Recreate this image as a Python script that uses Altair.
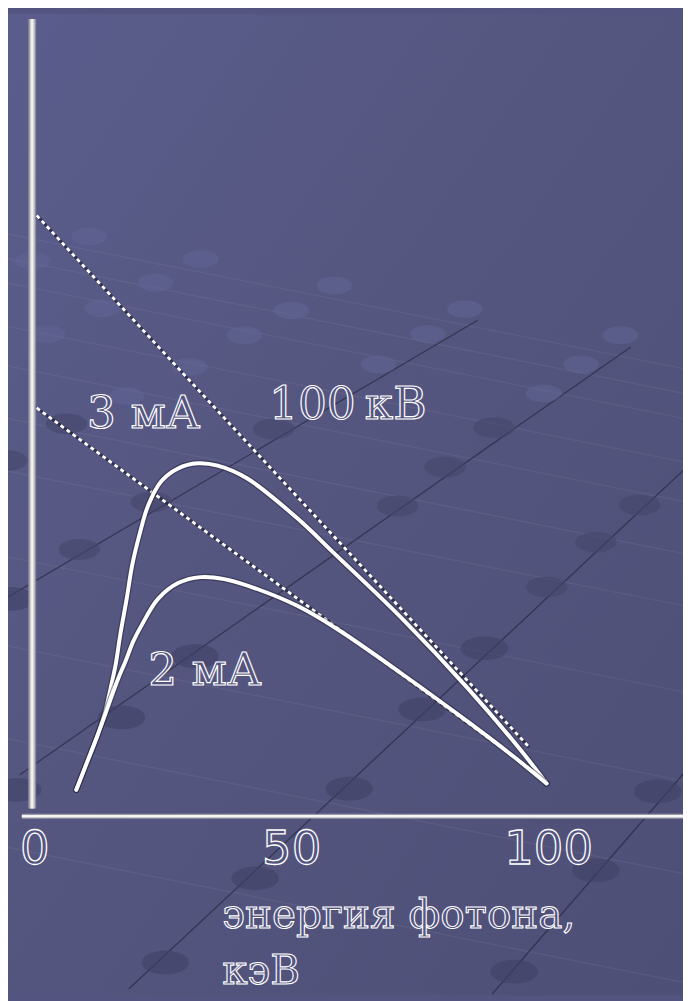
import altair as alt
import pandas as pd

# ---- spectrum curves (photon energy, keV -> relative intensity) ----
energy_3mA = [8.1, 10.2, 12.1, 13.7, 14.8, 15.8, 16.7, 17.9, 19.0, 20.4, 22.1, 24.6, 27.9,
              31.7, 35.6, 41.3, 51.0, 58.7, 71.5, 84.2, 94.6, 99.6]
intensity_3mA = [3.1, 6.6, 9.75, 12.9, 16.0, 19.1, 22.9, 27.25, 31.6, 35.4, 39.1, 42.1, 43.75,
                 44.4, 44.1, 42.5, 37.5, 32.75, 24.75, 16.0, 8.1, 3.9]
energy_2mA = [8.1, 10.2, 12.1, 13.7, 15.0, 16.3, 17.7, 19.2, 20.8, 24.0, 27.9, 32.3, 36.9,
              43.3, 51.0, 58.7, 71.5, 84.2, 93.3, 99.6]
intensity_2mA = [3.1, 6.6, 9.75, 12.6, 15.0, 17.25, 19.4, 21.9, 23.9, 27.25, 29.25, 30.0, 29.75,
                 28.5, 26.4, 23.5, 17.75, 11.75, 7.25, 3.9]

# ---- dotted Kramers lines ----
kramers_energy_3mA = [0.4, 96.2]
kramers_3mA = [75.75, 8.5]
kramers_energy_2mA = [0.4, 99.6]
kramers_2mA = [51.4, 4.25]

# ---- axis ----
tick_values = [0, 50, 100]
tick_labels = ["0", "50", "100"]
axis_title_lines = ["энергия фотона,", "кэВ"]

# ---- annotations ----
label_texts = ["3 мА", "100\u2009кВ", "2 мА"]
label_x = [10.2, 45.6, 22.1]
label_y = [48.9, 50.0, 16.4]

# ---- decorative background (slide template grid) ----
deco_x = [10.6, -0.4, 32.3, 23.5, 58.3, 13.1, 50.0, 2.5, 40.8, 76.5, 83.7, 30.2, 66.9, 114.0,
          106.3, 99.0, 17.9, 89.4, 6.2, 46.5, -5.4, 79.8, 70.6, 22.7, 117.7, 109.2, 99.6, 87.5,
          75.4, 8.7, 16.9, 31.2, 61.2, 121.2, -3.3, 42.9, 109.2, 25.4, 93.3, -4.8]
deco_y = [73.1, 70.0, 70.25, 67.25, 66.9, 64.0, 63.75, 60.75, 60.6, 60.75, 63.9, 56.6, 56.9, 60.6,
          56.9, 53.25, 52.9, 48.9, 49.4, 48.75, 44.75, 43.9, 39.0, 39.5, 39.1, 34.4, 28.75, 21.0,
          13.25, 33.5, 12.25, 20.0, 3.25, 2.9, 3.1, -8.1, -7.1, -18.75, -19.9, 27.25]
dark_x1 = [86.2, 116.0, 126.2, 126.2]
dark_y1 = [62.5, 59.1, 43.5, 5.1]
dark_x2 = [-6.7, -2.9, 18.3, 89.0]
dark_y2 = [26.9, 5.0, -22.1, -22.75]
light_y_left = [73.6, 70.5, 67.4, 61.9, 56.9, 50.25, 43.6, 32.75, 21.5, 9.75, -4.0]
light_y_right = [56.4, 53.25, 50.1, 44.6, 39.6, 33.0, 26.4, 15.5, 4.25, -7.5, -21.25]

BG = "#53547f"
XMIN, XMAX = -5.19, 126.15
YMIN, YMAX = -22.875, 101.25
xs = alt.Scale(domain=[XMIN, XMAX], nice=False, zero=False)
ys = alt.Scale(domain=[YMIN, YMAX], nice=False, zero=False)

def X(f="x"):
    return alt.X(f"{f}:Q", scale=xs, axis=None)

def Y(f="y"):
    return alt.Y(f"{f}:Q", scale=ys, axis=None)

# background gradient
bg = alt.Chart(pd.DataFrame({"a": [0]})).mark_rect(
    color=alt.Gradient(
        gradient="linear",
        stops=[alt.GradientStop(color="#5a5d8c", offset=0),
               alt.GradientStop(color="#55567f", offset=0.45),
               alt.GradientStop(color="#4e4f77", offset=1)],
        x1=0, y1=0, x2=1, y2=1)
).encode(x=alt.value(0), x2=alt.value(683), y=alt.value(0), y2=alt.value(993))

light_df = pd.DataFrame({"x": [XMIN - 1.5] * len(light_y_left), "y": light_y_left,
                         "x2": [XMAX] * len(light_y_left), "y2": light_y_right})
light = alt.Chart(light_df).mark_rule(color="#ffffff", opacity=0.05, strokeWidth=1.5).encode(
    x=X(), y=Y(), x2="x2:Q", y2="y2:Q")

dark_df = pd.DataFrame({"x": dark_x1, "y": dark_y1, "x2": dark_x2, "y2": dark_y2})
dark = alt.Chart(dark_df).mark_rule(color="#15152a", opacity=0.5, strokeWidth=1.3).encode(
    x=X(), y=Y(), x2="x2:Q", y2="y2:Q")

deco_df = pd.DataFrame({"x": deco_x, "y": deco_y})
deco_df["w"] = [36 if y > 52 else (42 if y > 28 else 48) for y in deco_y]
deco_df["s"] = deco_df["w"] ** 2
deco_df["c"] = ["#62659580" if y > 52 else ("#45466b99" if y > 28 else "#40416599") for y in deco_y]
ell_path = "M-1,0A1,0.5,0,1,1,1,0A1,0.5,0,1,1,-1,0Z"
deco = alt.Chart(deco_df).mark_point(shape=ell_path, filled=True, opacity=1, strokeWidth=0).encode(
    x=X(), y=Y(), size=alt.Size("s:Q", scale=None, legend=None),
    color=alt.Color("c:N", scale=None, legend=None))

# axes drawn as rules
yaxis_df = pd.DataFrame({"x": [-0.48], "y": [0.75], "y2": [100.6]})
yaxis = alt.layer(*[
    alt.Chart(yaxis_df).mark_rule(color=c, strokeWidth=w).encode(x=X(), y=Y(), y2="y2:Q")
    for c, w in [("#8c8c98", 8), ("#cfcfd4", 5), ("#f2f2f2", 2)]
])
xaxis_df = pd.DataFrame({"x": [-2.5], "x2": [XMAX], "y": [-0.25]})
xaxis = alt.layer(
    alt.Chart(xaxis_df).mark_rule(color="#9a9aa6", strokeWidth=5).encode(x=X(), x2="x2:Q", y=Y()),
    alt.Chart(xaxis_df).mark_rule(color="#f6f6f6", strokeWidth=2.5).encode(x=X(), x2="x2:Q", y=Y()),
)

# dotted lines
def dotted(ex, vals):
    d = pd.DataFrame({"x": ex, "y": vals})
    return alt.layer(
        alt.Chart(d).mark_line(color="#1a1a30", opacity=0.6, strokeWidth=3.2).encode(x=X(), y=Y()),
        alt.Chart(d).mark_line(color="#ffffff", strokeWidth=2.8, strokeDash=[4, 3.5]).encode(x=X(), y=Y()),
    )

def curve(ex, iy):
    d = pd.DataFrame({"x": ex, "y": iy})
    return alt.layer(
        alt.Chart(d).mark_line(color="#202036", opacity=0.45, strokeWidth=6.5,
                               interpolate="catmull-rom", strokeCap="round").encode(x=X(), y=Y()),
        alt.Chart(d).mark_line(color="#ffffff", strokeWidth=4,
                               interpolate="catmull-rom", strokeCap="round").encode(x=X(), y=Y()),
    )

# texts (outlined white lettering)
lab_df = pd.DataFrame({"x": label_x, "y": label_y, "t": label_texts})
labels = alt.Chart(lab_df).mark_text(
    font="DejaVu Serif", fontSize=46, fill=BG, stroke="#ffffff", strokeWidth=1.2,
    align="left", baseline="alphabetic").encode(x=X(), y=Y(), text="t:N")

tick_df = pd.DataFrame({"x": tick_values, "y": [-6.25] * 3, "t": tick_labels})
ticks = alt.Chart(tick_df).mark_text(
    font="DejaVu Sans", fontSize=47, fill=BG, stroke="#ffffff", strokeWidth=1.3,
    align="center", baseline="alphabetic").encode(x=X(), y=Y(), text="t:N")

title_df = pd.DataFrame({"x": [36.5, 36.5], "y": [-14.4, -21.4], "t": axis_title_lines})
title = alt.Chart(title_df).mark_text(
    font="DejaVu Serif", fontSize=41, fill=BG, stroke="#ffffff", strokeWidth=1.1,
    align="left", baseline="alphabetic").encode(x=X(), y=Y(), text="t:N")

chart = alt.layer(
    bg, light, dark, deco, yaxis, xaxis,
    dotted(kramers_energy_3mA, kramers_3mA), dotted(kramers_energy_2mA, kramers_2mA),
    curve(energy_3mA, intensity_3mA), curve(energy_2mA, intensity_2mA),
    labels, ticks, title,
).properties(
    width=683, height=993, padding=0, background=BG,
    autosize=alt.AutoSizeParams(type="none"),
).configure_view(stroke=None)

chart.save("out.html", embed_options={"renderer": "svg", "actions": False})
